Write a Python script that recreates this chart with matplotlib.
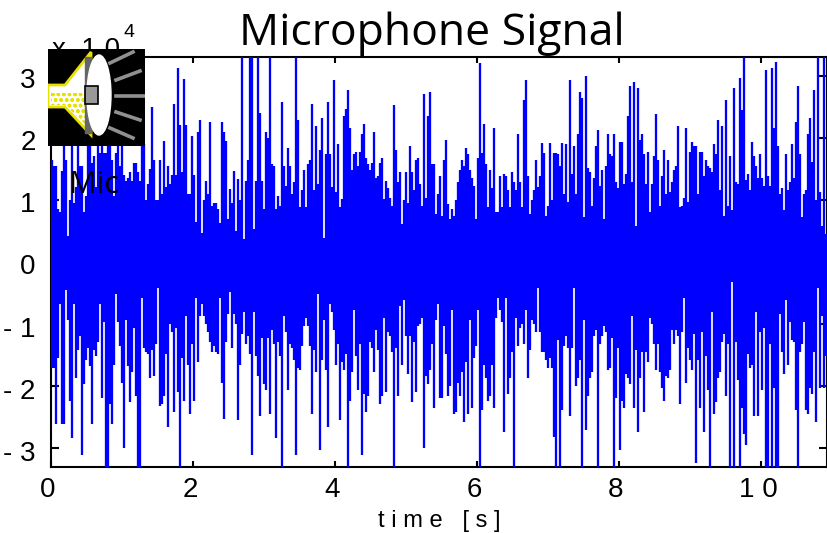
import numpy as np
import matplotlib
matplotlib.use('Agg')
import matplotlib.pyplot as plt
from matplotlib.patches import Polygon, Ellipse, Rectangle
from matplotlib.transforms import ScaledTranslation

# microphone signal (units of 1e4), one column every 2 px
up_a = [1.65,1.55,1.55,.85,.8,1.47,1.9,1.65,.42,1.0,1.9,.95,1.2,1.9,1.55,1.55,.8,1.06,1.9,1.9,
        1.6,1.7,1.2,1.9,1.75,1.9,1.75,1.75,1.9,1.9,1.65,1.06,1.75,1.9,1.55,1.9,1.4,1.3,1.35,1.45,
        1.3,1.6,1.6,1.45,1.3,1.9,1.9,1.0,1.25,1.5,2.5,1.65,1.0,1.0,1.65,1.1,1.95,1.2,1.55,1.25,
        1.4,2.55,1.4,3.13,2.2,1.45,2.95,2.2,1.1,1.1,2.03,1.4,.65,2.1,2.28,.47,1.0,1.3,1.1,2.25,
        .9,.95,.95,.85,.63,2.25,2.1,1.95,.7,1.17,.95,1.47,.5,1.33,1.0,3.3,.37,1.3,1.65,3.3,
        3.3,.53,1.3,3.3,2.4,1.3,.85,2.1,2.0,3.3,1.57,1.55,.85,1.06]
up_b = [.9,2.57,1.55,1.22,1.83,1.55,1.09,1.29,3.3,2.29,.88,1.16,1.48,.88,1.58,1.64,2.54,1.16,2.19,1.25,
        1.8,2.32,.39,1.74,2.58,1.74,1.2,2.93,1.13,1.9,.88,1.02,2.35,2.47,2.77,2.16,1.48,1.74,1.77,1.55,
        1.77,2.06,2.22,1.67,1.58,1.48,1.6,2.09,1.36,1.39,1.6,1.67,1.01,1.3,1.19,1.03,.9,2.52,1.8,1.29,
        1.45,.61,1.0,1.45,.95,1.87,1.45,1.16,1.64,1.67,1.25,.9,2.7,1.03,2.35,2.74,1.58,1.58,.77,1.09,
        1.39,.74,1.64,1.96,.93,.69,.86,.74,1.0,1.28,1.48,1.64,1.55,1.83,1.74,1.48,1.35,1.23,.69,1.67,
        3.21,1.76,2.22,1.58,.88,1.48,1.19,2.16,.81,.81,1.39,.88,1.41,1.39,1.16,.88,1.45,1.29,1.16,2.06,
        1.29,.89,2.61,2.93,1.39,.77,1.0,1.16,1.64,1.2,1.39,1.92,1.76,.74,.9,1.92,1.0,1.76]
up_c = [1.76,1.74,1.55,1.92,1.09,1.9,.97,2.93,1.41,1.87,1.09,2.06,2.74,2.64,.72,2.99,1.51,1.45,.9,1.35,
        1.87,2.12,1.23,1.48,.69,1.54,2.06,1.74,1.7,2.06,1.29,1.19,1.93,1.93,1.25,1.41,2.35,2.83,1.29,2.9,
        .58,2.8,1.96,2.06,1.74,1.25,1.77,.81,1.25,1.7,2.38,1.64,.9,1.39,1.8,1.09,1.64,1.12,1.29,1.48,
        1.55,2.19,.88,.9,1.03,2.16,.97,1.77,1.93,1.87,1.87,1.09,1.77,1.77,1.39,1.64,1.55,1.51,1.45,1.9,
        1.74,2.28,1.16,2.19,.74,2.61,.9,1.7,.84,2.8,1.29,1.25,2.96,2.45,3.3,1.32,1.41,1.16,1.93,1.7,
        1.55,1.35,1.74,1.35,1.23,3.09,1.39,1.23,3.12,2.16,3.22,1.87,1.09,1.19,.84,1.74,1.16,1.29,1.9,1.35,
        2.25,2.83,1.74,.72,1.09,1.16,2.06,2.32,1.61,2.77,1.0,3.3,1.13,.58,3.3,.45]

low_a = [-1.7,-1.7,-2.61,-1.54,-.68,-2.61,-2.61,-.45,-.94,-2.23,-2.83,-.68,-1.87,-1.42,-1.19,-3.1,-1.97,-1.58,-1.39,-1.68,
         -2.61,-1.42,-1.52,-1.29,-.68,-2.19,-.97,-3.3,-3.3,-2.29,-2.61,-1.65,-.52,-.97,-1.35,-1.94,-3.0,-.94,-1.68,-2.26,
         -1.77,-1.06,-2.16,-3.3,-3.3,-.58,-1.39,-1.45,-1.48,-1.87,-1.42,-1.84,-1.32,-.42,-2.32,-2.29,-2.16,-1.48,-2.65,-1.0,
         -1.13,-2.42,-1.06,-2.1,-3.3,-1.55,-2.23,-.87,-1.65,-2.45,-1.32,-2.23,-.58,-1.61,-.87,-.68,-.87,-1.0,-1.13,-1.29,
         -1.45,-1.35,-1.45,-1.48,-.58,-1.94,-2.52,-1.29,-.84,-.48,-1.39,-.84,-1.0,-2.55,-1.65,-1.16,-.81,-1.32,-1.19,-1.48,
         -3.1,-.81,-1.52,-1.84,-2.48,-1.23,-1.97,-2.06,-1.23,-2.45,-1.1,-1.32,-2.84,-1.29]
low_b = [-1.51,-3.3,-.87,-1.13,-2.06,-1.32,-1.39,-1.58,-3.1,-1.71,-1.74,-1.35,-1.03,-.9,-1.03,-1.35,-2.45,-1.42,-1.77,-.52,
         -3.03,-1.58,-.94,-1.74,-2.65,-.68,-.81,-1.1,-1.65,-1.32,-2.55,-1.61,-1.74,-1.48,-3.3,-2.23,-1.77,-.77,-1.52,-2.06,
         -1.32,-3.1,-2.13,-2.42,-2.16,-1.29,-1.39,-1.77,-1.1,-1.42,-2.29,-2.16,-.9,-2.1,-1.13,-1.19,-1.45,-3.3,-1.39,-2.16,
         -.71,-1.65,-.61,-1.19,-1.81,-1.19,-2.26,-1.29,-2.1,-1.03,-1.0,-.9,-3.0,-1.84,-1.97,-1.74,-1.32,-2.35,-.94,-.68,
         -2.19,-2.19,-1.03,-1.48,-2.16,-2.0,-.77,-2.45,-2.42,-1.94,-2.16,-1.77,-2.58,-1.61,-2.45,-.94,-2.35,-1.55,-1.35,-.77,
         -3.3,-2.39,-1.65,-1.87,-2.23,-2.16,-1.65,-2.35,-.9,-.58,-.77,-.97,-2.74,-.58,-2.13,-1.87,-1.45,-3.3,-.9,-1.35,
         -1.06,-1.0,-1.32,-.77,-1.87,-1.42,-.94,-1.0,-1.13,-.42,-1.13,-1.45,-1.45,-1.58,-1.71,-1.55,-1.71,-2.81]
low_c = [-3.3,-1.26,-3.3,-2.39,-1.35,-1.19,-1.39,-2.48,-1.39,-.42,-2.0,-1.87,-1.58,-3.3,-.94,-2.71,-2.16,-1.87,-1.77,-1.19,
         -1.1,-3.3,-1.32,-1.19,-1.03,-1.13,-1.74,-1.71,-1.23,-3.3,-2.19,-1.39,-3.03,-2.23,-2.35,-1.81,-1.87,-1.97,-.87,-2.35,
         -1.42,-2.74,-1.87,-1.45,-2.42,-1.45,-1.61,-.9,-1.0,-1.32,-1.74,-1.32,-1.77,-2.03,-2.23,-1.84,-1.87,-1.74,-1.1,-1.32,
         -1.1,-1.19,-2.29,-1.13,-.58,-1.94,-1.39,-1.58,-1.74,-1.16,-3.23,-1.58,-2.35,-1.13,-2.74,-1.52,-2.06,-3.3,-.81,-2.45,
         -2.26,-1.87,-1.77,-1.29,-1.16,-2.16,-1.32,-3.3,-.32,-3.3,-1.29,-1.9,-3.3,-2.35,-2.77,-2.94,-1.48,-1.71,-1.65,-2.48,
         -.81,-2.48,-1.13,-2.06,-1.06,-3.3,-3.3,-1.32,-3.3,-2.03,-3.3,-3.3,-.84,-1.45,-1.81,-.61,-1.65,-.97,-1.26,-1.29,
         -2.39,-3.3,-1.45,-1.32,-.97,-2.39,-2.45,-2.03,-2.13,-1.45,-2.58,-.42,-2.03,-.87,-2.03,-1.52]

xticks = [0,2,4,6,8,10]
xticklabels = ['0','2','4','6','8','1 0']
yticks = [-3,-2,-1,0,1,2,3]
yticklabels = ['- 3','- 2','- 1','0','1','2','3']

up = np.array(up_a+up_b+up_c)*1e4
low = np.array(low_a+low_b+low_c)*1e4
assert len(up)==len(low)

dt = 0.02817
t = 0.014+dt*np.arange(len(up))

W,H = 827,533
fig = plt.figure(figsize=(W/100,H/100),dpi=100)
ax = fig.add_axes([51/W,(H-467)/H,776/W,410/H])
ax.vlines(t,low,up,color='#0000ff',linewidth=1.65,zorder=3)
ax.set_xlim(0,10.93)
ax.set_ylim(-3.3e4,3.3e4)
ax.set_xticks(xticks)
ax.set_xticklabels(xticklabels,fontsize=20,family='Liberation Sans')
ax.set_yticks([v*1e4 for v in yticks])
ax.set_yticklabels(yticklabels,fontsize=20,family='Liberation Sans')
ax.tick_params(axis='x',direction='in',length=4,width=1.5,top=True,pad=7)
ax.tick_params(axis='y',direction='in',length=6,width=1.5,right=True,pad=11)
for lab in ax.get_xticklabels():
    lab.set_transform(lab.get_transform()+ScaledTranslation(-3/100,0,fig.dpi_scale_trans))
for lab in ax.get_yticklabels():
    lab.set_transform(lab.get_transform()+ScaledTranslation(0,-2.5/100,fig.dpi_scale_trans))
for s in ax.spines.values():
    s.set_linewidth(1.5)
ax.set_xlabel('t i m e   [ s ]',fontsize=17,family='Liberation Sans',labelpad=5)

fig.text(432/W,1-45/H,'Microphone Signal',fontsize=32,family='Open Sans',ha='center',va='baseline',zorder=6)
fig.text(52/W,1-57/H,'x  1 0',fontsize=20,family='Liberation Sans',ha='left',va='baseline',zorder=1)
fig.text(124/W,1-37/H,'4',fontsize=14,family='Liberation Sans',ha='left',va='baseline',zorder=1)
fig.text(69/W,1-193/H,'Mic',fontsize=22,family='Open Sans',ha='left',va='baseline',zorder=6)

# speaker icon
ic = fig.add_axes([48/W,1-146/H,97/W,97/H],zorder=5)
ic.set_xlim(0,97)
ic.set_ylim(97,0)
ic.axis('off')
ic.add_patch(Rectangle((0,0),97,97,color='black'))
ic.add_patch(Polygon([(0,36),(17,36),(43,3),(43,86),(17,58),(0,58)],fc='white',ec='#e8e000',lw=2))
ic.add_patch(Polygon([(3,44),(38,44),(38,76),(17,56),(3,56)],fc='white',ec='#e8e000',lw=0,hatch='ooo'))
ic.add_patch(Rectangle((37,8),6,76,color='#666666'))
ic.add_patch(Ellipse((51,46),24,80,color='white'))
ic.add_patch(Rectangle((37,37),13,18,fc='#999999',ec='black',lw=1.2))
for (x0,y0,x1,y1) in [(62,14,85,3),(68,31,92,22),(68,47,97,47),(68,63,92,71),(62,79,85,89)]:
    ic.plot([x0,x1],[y0,y1],color='#909090',lw=2.6)

plt.savefig('out.png',dpi=100)
